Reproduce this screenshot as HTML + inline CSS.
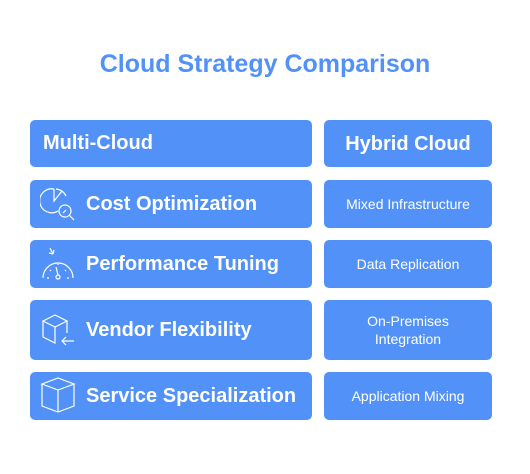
<!DOCTYPE html>
<html><head><meta charset="utf-8"><style>
body{margin:0;width:530px;height:474px;background:#fff;font-family:"Liberation Sans",Arial,sans-serif;position:relative;overflow:hidden}
.t{position:absolute;left:0;width:530px;top:50px;text-align:center;font-size:25px;font-weight:bold;color:#5292f8}
.b{position:absolute;background:#5292f8;border-radius:5px;color:#fff;display:flex;align-items:center;box-sizing:border-box}
.l{left:30px;width:282px;font-weight:bold;font-size:20px}
.r{left:324px;width:168px;justify-content:center;text-align:center;font-size:14px;line-height:18px}
svg{position:absolute;left:10px}
</style></head><body>
<div class="t">Cloud Strategy Comparison</div>
<div class="b l" style="top:120px;height:47px;padding-left:13px">Multi-Cloud</div>
<div class="b r" style="top:120px;height:47px;font-size:20px;font-weight:bold">Hybrid Cloud</div>

<div class="b l" style="top:180px;height:48px;padding-left:56px">
<svg width="36" height="36" viewBox="0 0 36 36" fill="none" stroke="#fff" stroke-width="1.2" style="top:6px"><path d="M14 3a12 12 0 1 0 4 22"/><path d="M14 3v12l8-10"/><path d="M16 3a12 12 0 0 1 10 7"/><circle cx="25" cy="25" r="6"/><path d="M29 29l5 5M23 27l3-3"/></svg>
Cost Optimization</div>
<div class="b r" style="top:180px;height:48px">Mixed Infrastructure</div>

<div class="b l" style="top:240px;height:48px;padding-left:56px">
<svg width="36" height="36" viewBox="0 0 36 36" fill="none" stroke="#fff" stroke-width="1.2" style="top:6px"><path d="M3 32a15 15 0 0 1 30 0"/><path d="M10 2l3 6M13 8l-4-1M13 8l1-4"/><circle cx="18" cy="31" r="2"/><path d="M18 29l-2-8M7 32h2M27 32h2M10 24l1 1M26 24l-1 1M18 18v1"/></svg>
Performance Tuning</div>
<div class="b r" style="top:240px;height:48px">Data Replication</div>

<div class="b l" style="top:300px;height:60px;padding-left:56px">
<svg width="36" height="36" viewBox="0 0 36 36" fill="none" stroke="#fff" stroke-width="1.2" style="top:12px"><path d="M3 9l12-6 12 6-12 6z"/><path d="M3 9v16l12 6V15M27 9v12"/><path d="M34 29H22M26 25l-4 4 4 4"/></svg>
Vendor Flexibility</div>
<div class="b r" style="top:300px;height:60px">On-Premises<br>Integration</div>

<div class="b l" style="top:372px;height:48px;padding-left:56px">
<svg width="36" height="38" viewBox="0 0 36 38" fill="none" stroke="#fff" stroke-width="1.2" style="top:4px"><path d="M2 8l16-6 16 6-16 6z"/><path d="M2 8v22l16 6 16-6V8M18 14v22"/></svg>
Service Specialization</div>
<div class="b r" style="top:372px;height:48px">Application Mixing</div>
</body></html>
